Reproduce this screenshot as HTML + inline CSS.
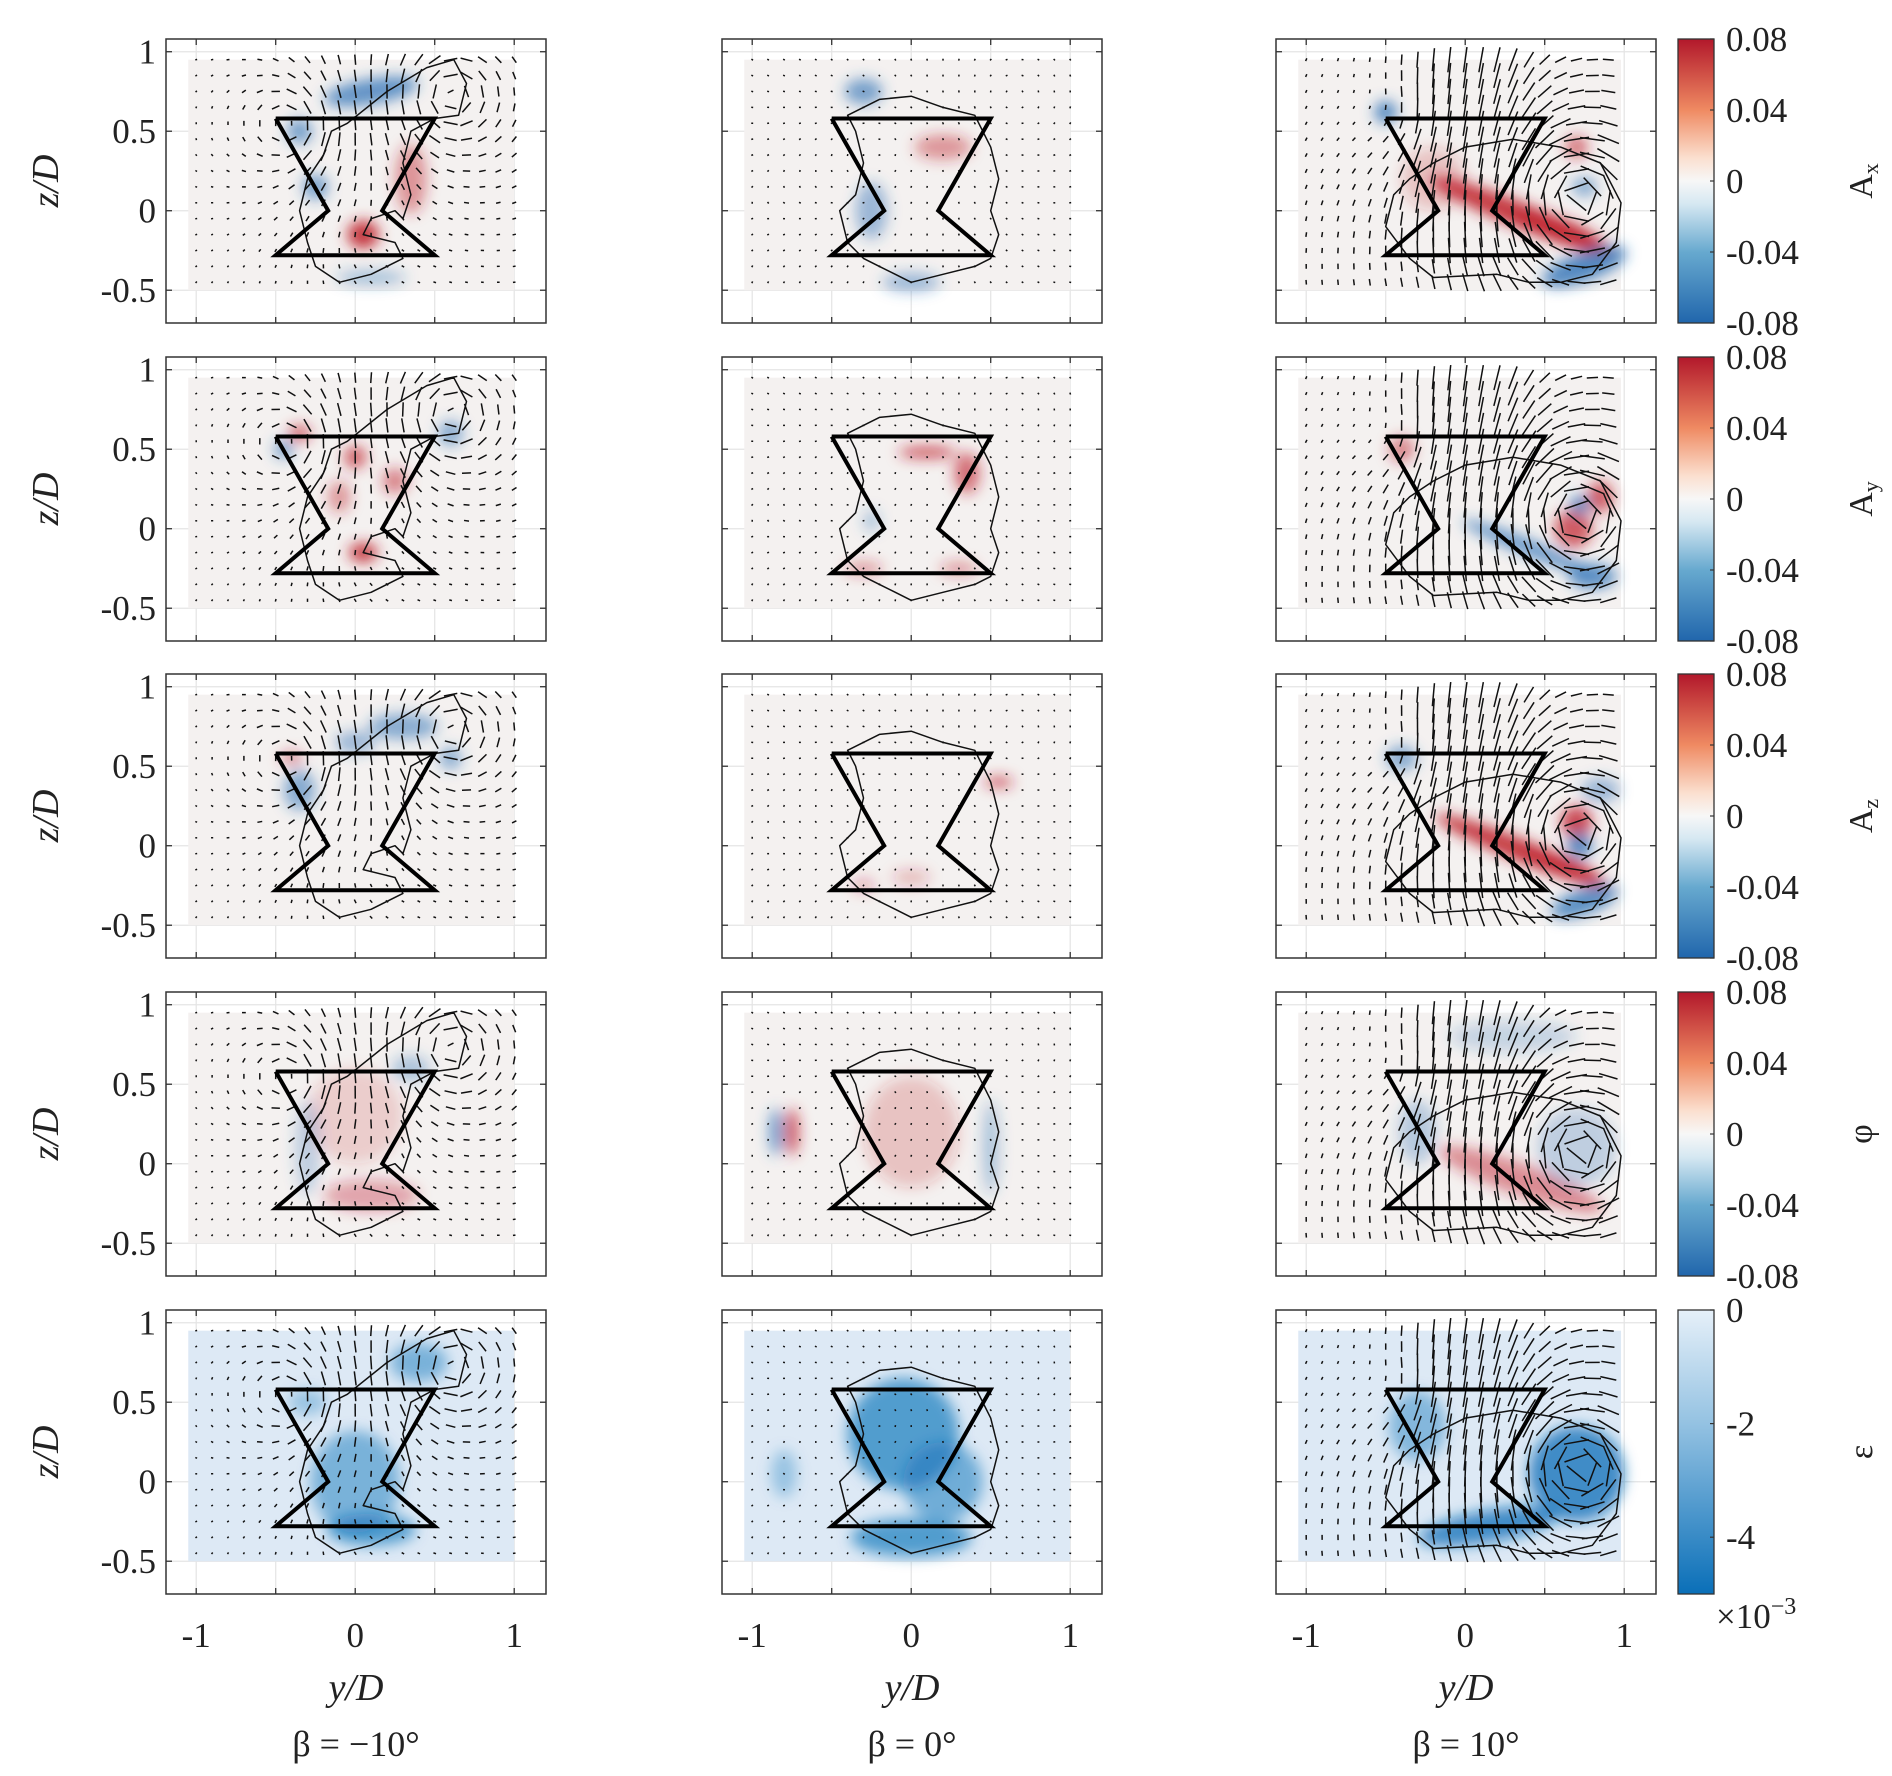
<!DOCTYPE html>
<html><head><meta charset="utf-8">
<style>
html,body{margin:0;padding:0;background:#fff;}
svg{display:block;font-family:"Liberation Serif",serif;}
</style></head>
<body>
<svg id="fig" width="1892" height="1776" viewBox="0 0 1892 1776" xmlns="http://www.w3.org/2000/svg">
<defs>
<filter id="blur" x="-50%" y="-50%" width="200%" height="200%"><feGaussianBlur stdDeviation="7"/></filter>
<linearGradient id="rdbu" x1="0" y1="0" x2="0" y2="1">
<stop offset="0" stop-color="#b2182b"/><stop offset="0.25" stop-color="#ef8a62"/><stop offset="0.42" stop-color="#fbe0d0"/><stop offset="0.5" stop-color="#f7f7f7"/><stop offset="0.58" stop-color="#d6e8f2"/><stop offset="0.75" stop-color="#67a9cf"/><stop offset="1" stop-color="#2166ac"/>
</linearGradient>
<linearGradient id="blues" x1="0" y1="0" x2="0" y2="1">
<stop offset="0" stop-color="#e6f0f9"/><stop offset="0.4" stop-color="#94c2e2"/><stop offset="1" stop-color="#0a6fb8"/>
</linearGradient>
</defs>
</svg>
<script>
// ---- data arrays ----
const colLeft = [166, 722, 1276];
const rowTop = [39, 357, 674, 992, 1310];
const betaLabels = ["β = −10°", "β = 0°", "β = 10°"];
const rowVars = ["A", "A", "A", "φ", "ε"];
const rowSubs = ["x", "y", "z", "", ""];
const yTicks = [1, 0.5, 0, -0.5];
const yTickLabels = ["1", "0.5", "0", "-0.5"];
const xTicks = [-1, 0, 1];
const xTickLabels = ["-1", "0", "1"];
const cbTicksRdBu = [0.08, 0.04, 0, -0.04, -0.08];
const cbTickLabelsRdBu = ["0.08", "0.04", "0", "-0.04", "-0.08"];
const cbTicksEps = [0, -2, -4];
const cbTickLabelsEps = ["0", "-2", "-4"];
// hourglass (bluff body outline) in y/D, z/D
const bodyY = [-0.5, 0.5, 0.17, 0.5, -0.5, -0.17, -0.5];
const bodyZ = [0.58, 0.58, 0, -0.28, -0.28, 0, 0.58];
// vortex centres per column: [y, z, strength, core]
const vortices = [
  [[0.6, 0.72, 0.35, 0.15], [-0.4, 0.55, -0.25, 0.15], [0.05, -0.2, 0.05, 0.2]],
  [[0.0, 0.45, 0.04, 0.3], [0.6, 0.7, -0.06, 0.25]],
  [[0.72, 0.08, 0.8, 0.12], [-0.35, 0.55, -0.15, 0.2]]
];
const downwash = [0.0, 0.0, 0.3];
// contour outlines per column
const contourY = [
  [-0.05,0.2,0.45,0.62,0.7,0.65,0.5,0.35,0.3,0.35,0.3,0.25,0.1,0.05,0.25,0.3,0.1,-0.1,-0.25,-0.3,-0.35,-0.3,-0.2,-0.15,-0.05],
  [-0.4,-0.2,0.0,0.2,0.4,0.5,0.55,0.5,0.55,0.5,0.4,0.2,0.0,-0.1,-0.2,-0.3,-0.4,-0.45,-0.35,-0.3,-0.35,-0.4],
  [-0.2,0.0,0.3,0.6,0.85,0.98,0.95,0.8,0.6,0.4,0.2,-0.2,-0.35,-0.5,-0.45,-0.35,-0.2]
];
const contourZ = [
  [0.55,0.75,0.9,0.95,0.8,0.6,0.58,0.5,0.3,0.1,-0.05,0.0,-0.05,-0.15,-0.2,-0.3,-0.4,-0.45,-0.35,-0.2,0.0,0.2,0.35,0.5,0.55],
  [0.6,0.7,0.72,0.65,0.6,0.4,0.2,0.0,-0.15,-0.3,-0.35,-0.4,-0.45,-0.4,-0.35,-0.3,-0.2,0.0,0.1,0.3,0.5,0.6],
  [0.3,0.4,0.45,0.4,0.3,0.05,-0.2,-0.4,-0.45,-0.45,-0.4,-0.42,-0.3,-0.1,0.1,0.2,0.3]
];
// colour blobs per panel [row][col]: [y, z, ry, rz, rotDeg, sign(+1 red / -1 blue), intensity]
const blobs = [
  [[[0.05,-0.15,0.1,0.09,0,1,1],[0.1,0.75,0.3,0.08,-10,-1,0.8],[-0.35,0.5,0.08,0.08,0,-1,0.7],[0.35,0.2,0.1,0.22,0,1,0.5],[-0.25,0.15,0.08,0.08,0,-1,0.7],[0.1,-0.42,0.22,0.05,0,-1,0.4]],
   [[-0.3,0.75,0.12,0.08,0,-1,0.7],[-0.25,0.0,0.1,0.18,0,-1,0.5],[0.2,0.4,0.18,0.08,0,1,0.5],[0.0,-0.45,0.18,0.06,0,-1,0.5]],
   [[0.35,-0.03,0.62,0.08,22,1,1],[0.6,-0.12,0.3,0.07,22,1,1],[-0.5,0.62,0.07,0.07,0,-1,0.9],[0.75,-0.35,0.28,0.09,-20,-1,0.9],[0.7,0.4,0.07,0.07,0,1,0.7],[0.75,0.15,0.08,0.06,0,-1,0.6],[-0.2,0.2,0.2,0.2,0,1,0.25]]],
  [[[0.05,-0.15,0.09,0.06,0,1,1],[0.0,0.45,0.07,0.07,0,1,0.8],[-0.45,0.5,0.06,0.06,0,-1,0.7],[-0.35,0.6,0.07,0.05,0,1,0.8],[0.6,0.6,0.08,0.08,0,-1,0.6],[-0.1,0.2,0.07,0.1,0,1,0.5],[0.25,0.3,0.08,0.08,0,1,0.6]],
   [[0.1,0.48,0.18,0.035,0,1,0.9],[0.35,0.35,0.08,0.13,0,1,0.7],[-0.3,-0.25,0.12,0.04,0,1,0.5],[0.3,-0.25,0.12,0.04,0,1,0.5],[-0.25,0.05,0.05,0.07,0,-1,0.4]],
   [[0.68,0.0,0.12,0.12,0,1,0.8],[0.85,0.2,0.08,0.1,0,1,0.8],[0.72,0.15,0.06,0.06,0,-1,0.9],[0.4,-0.12,0.45,0.05,22,-1,0.8],[-0.4,0.5,0.08,0.08,0,1,0.6],[0.8,-0.3,0.15,0.08,0,-1,0.8]]],
  [[[-0.35,0.35,0.1,0.13,0,-1,0.6],[0.3,0.75,0.22,0.08,0,-1,0.6],[-0.4,0.55,0.07,0.04,0,1,0.6],[0.6,0.55,0.07,0.07,0,-1,0.6],[0.0,0.65,0.13,0.07,0,-1,0.5]],
   [[0.55,0.4,0.09,0.03,0,1,0.9],[0.0,-0.2,0.12,0.05,0,1,0.3],[-0.3,-0.25,0.07,0.04,0,1,0.4]],
   [[0.35,-0.03,0.58,0.07,22,1,1],[0.6,-0.12,0.28,0.06,22,1,1],[0.7,0.15,0.1,0.1,0,1,0.9],[0.72,0.0,0.08,0.08,0,-1,0.9],[0.75,-0.35,0.22,0.08,-20,-1,0.85],[-0.4,0.55,0.1,0.08,0,-1,0.6],[0.85,0.35,0.12,0.08,0,-1,0.5]]],
  [[[0.1,-0.2,0.3,0.1,0,1,0.4],[0.0,0.3,0.3,0.3,0,1,0.2],[-0.3,0.1,0.08,0.3,0,-1,0.3],[0.35,0.6,0.12,0.08,0,-1,0.4]],
   [[-0.75,0.2,0.04,0.15,0,1,0.9],[-0.85,0.2,0.04,0.15,0,-1,0.8],[0.0,0.2,0.3,0.35,0,1,0.25],[0.5,0.1,0.05,0.3,0,-1,0.4]],
   [[0.35,-0.1,0.55,0.1,20,1,0.55],[0.7,0.1,0.25,0.25,0,-1,0.3],[0.3,0.8,0.4,0.1,0,-1,0.25],[-0.3,0.2,0.12,0.2,0,-1,0.35]]],
  [[[0.0,0.0,0.28,0.32,0,-1,0.5],[0.1,-0.3,0.28,0.1,0,-1,0.7],[0.4,0.75,0.18,0.12,0,-1,0.5],[-0.3,0.5,0.12,0.08,0,-1,0.35]],
   [[-0.05,0.3,0.35,0.35,0,-1,0.7],[0.2,0.0,0.25,0.25,0,-1,0.55],[0.0,-0.35,0.38,0.12,0,-1,0.7],[-0.8,0.05,0.08,0.15,0,-1,0.35]],
   [[0.7,0.05,0.3,0.3,0,-1,0.85],[0.15,-0.28,0.45,0.1,-10,-1,0.85],[-0.3,0.35,0.18,0.22,0,-1,0.45]]]
];
</script>
<script>
const NS = "http://www.w3.org/2000/svg";
const svg = document.getElementById('fig');
const W = 380, H = 284, SC = 159, YMIN = -1.19, ZMAX = 1.08;
function mk(tag, attrs, parent) {
  const e = document.createElementNS(NS, tag);
  for (const k in attrs) e.setAttribute(k, attrs[k]);
  (parent || svg).appendChild(e);
  return e;
}
function px(c, y) { return colLeft[c] + (y - YMIN) * SC; }
function pz(r, z) { return rowTop[r] + (ZMAX - z) * SC; }
function vel(c, y, z) {
  let u = 0, w = -downwash[c] * Math.exp(-Math.pow((y - 0.05) / 0.35, 2)) * (z > -0.35 ? 1 : 0.3);
  for (const v of vortices[c]) {
    const dy = y - v[0], dz = z - v[1];
    const r2 = dy * dy + dz * dz + v[3] * v[3];
    u += -v[2] * dz / r2 * 0.15;
    w += v[2] * dy / r2 * 0.15;
  }
  return [u, w];
}
for (let r = 0; r < 5; r++) {
  for (let c = 0; c < 3; c++) {
    const g = mk('g', {});
    
    
    const cid = 'clip' + r + c;
    const cp = mk('clipPath', { id: cid }, g);
    mk('rect', { x: colLeft[c], y: rowTop[r], width: W, height: H }, cp);
    mk('rect', { x: colLeft[c], y: rowTop[r], width: W, height: H, fill: '#fff' }, g);
    for (const t of [-1, -0.5, 0, 0.5, 1]) {
      mk('line', { x1: px(c, t), x2: px(c, t), y1: rowTop[r], y2: rowTop[r] + H, stroke: '#e4e4e4', 'stroke-width': 1.2 }, g);
    }
    for (const t of yTicks) {
      mk('line', { x1: colLeft[c], x2: colLeft[c] + W, y1: pz(r, t), y2: pz(r, t), stroke: '#e4e4e4', 'stroke-width': 1.2 }, g);
    }
    const fieldRight = c === 2 ? 0.98 : 1.0;
    const bg = mk('rect', { x: px(c, -1.05), y: pz(r, 0.95), width: (fieldRight + 1.05) * SC, height: 1.45 * SC, fill: r === 4 ? '#dde9f5' : '#f4f1f0' }, g);
    
    
    const hg = mk('g', { 'clip-path': 'url(#' + cid + ')', filter: 'url(#blur)' }, g);
    for (const b of blobs[r][c]) {
      let col;
      if (r === 4) col = '#0a6fb8';
      else col = b[5] > 0 ? '#c0212e' : '#2a6fb5';
      const e = mk('ellipse', { cx: px(c, b[0]), cy: pz(r, b[1]), rx: b[2] * SC, ry: b[3] * SC, fill: col, opacity: b[6] * 0.9, transform: 'rotate(' + b[4] + ' ' + px(c, b[0]) + ' ' + pz(r, b[1]) + ')' }, hg);
      
      
    }
    const q = mk('g', { stroke: '#111', 'stroke-width': 1.5, fill: 'none', 'clip-path': 'url(#' + cid + ')' }, g);
    for (let iy = 0; iy <= 20; iy++) {
      for (let iz = 0; iz <= 14; iz++) {
        const y = -1.0 + iy * 0.1, z = -0.45 + iz * 0.1;
        if (y > fieldRight + 0.01) continue;
        let [u, w] = vel(c, y, z);
        let m = Math.hypot(u, w);
        const maxL = c === 2 ? 0.16 : 0.09;
        let L = Math.min(m * 0.55, maxL);
        if (L < 0.012) L = 0.012;
        const ux = m > 0 ? u / m : 0, wz = m > 0 ? w / m : -1;
        const x1 = px(c, y) - ux * L * SC / 2, y1 = pz(r, z) + wz * L * SC / 2;
        const x2 = x1 + ux * L * SC, y2 = y1 - wz * L * SC;
        const ln = mk('line', { x1: x1, y1: y1, x2: x2, y2: y2 }, q);
        
        
      }
    }
    let d = '';
    contourY[c].forEach((y, i) => { d += (i ? 'L' : 'M') + px(c, y).toFixed(1) + ' ' + pz(r, contourZ[c][i]).toFixed(1); });
    const ct = mk('path', { d: d + 'Z', fill: 'none', stroke: '#111', 'stroke-width': 1.5, 'stroke-linejoin': 'round' }, g);
    
    
    let bd = '';
    bodyY.forEach((y, i) => { bd += (i ? 'L' : 'M') + px(c, y).toFixed(1) + ' ' + pz(r, bodyZ[i]).toFixed(1); });
    const body = mk('path', { d: bd, fill: 'none', stroke: '#000', 'stroke-width': 4 }, g);
    
    
    for (const t of [-1, -0.5, 0, 0.5, 1]) {
      mk('line', { x1: px(c, t), x2: px(c, t), y1: rowTop[r] + H, y2: rowTop[r] + H - 6, stroke: '#333', 'stroke-width': 1.3 }, g);
      mk('line', { x1: px(c, t), x2: px(c, t), y1: rowTop[r], y2: rowTop[r] + 6, stroke: '#333', 'stroke-width': 1.3 }, g);
    }
    for (const t of yTicks) {
      mk('line', { x1: colLeft[c], x2: colLeft[c] + 6, y1: pz(r, t), y2: pz(r, t), stroke: '#333', 'stroke-width': 1.3 }, g);
      mk('line', { x1: colLeft[c] + W, x2: colLeft[c] + W - 6, y1: pz(r, t), y2: pz(r, t), stroke: '#333', 'stroke-width': 1.3 }, g);
    }
    const fr = mk('rect', { x: colLeft[c], y: rowTop[r], width: W, height: H, fill: 'none', stroke: '#333', 'stroke-width': 1.5 }, g);
    
    
    if (c === 0) {
      yTicks.forEach((t, i) => {
        const tx = mk('text', { x: colLeft[0] - 10, y: pz(r, t) + 12, 'text-anchor': 'end', 'font-size': 35, fill: '#222' }, g);
        tx.textContent = yTickLabels[i];
        
        
      });
      const yl = mk('text', { x: 0, y: 0, 'text-anchor': 'middle', 'font-size': 38, 'font-style': 'italic', fill: '#222', transform: 'translate(58 ' + (rowTop[r] + H / 2) + ') rotate(-90)' }, g);
      yl.textContent = 'z/D';
      
      
    }
    if (r === 4) {
      xTicks.forEach((t, i) => {
        const tx = mk('text', { x: px(c, t), y: 1647, 'text-anchor': 'middle', 'font-size': 35, fill: '#222' }, g);
        tx.textContent = xTickLabels[i];
        
        
      });
      const xl = mk('text', { x: colLeft[c] + W / 2, y: 1700, 'text-anchor': 'middle', 'font-size': 38, 'font-style': 'italic', fill: '#222' }, g);
      xl.textContent = 'y/D';
      
      
      const bl = mk('text', { x: colLeft[c] + W / 2, y: 1756, 'text-anchor': 'middle', 'font-size': 36, fill: '#222' }, g);
      bl.textContent = betaLabels[c];
      
      
    }
  }
  const cbg = mk('g', {});
  
  
  const cbx = 1678, cbw = 36;
  mk('rect', { x: cbx, y: rowTop[r], width: cbw, height: H, fill: r === 4 ? 'url(#blues)' : 'url(#rdbu)', stroke: '#333', 'stroke-width': 1.3 }, cbg);
  const ticks = r === 4 ? cbTicksEps : cbTicksRdBu;
  const labs = r === 4 ? cbTickLabelsEps : cbTickLabelsRdBu;
  ticks.forEach((t, i) => {
    const yy = r === 4 ? rowTop[r] + (-t / 5) * H : rowTop[r] + (0.08 - t) / 0.16 * H;
    mk('line', { x1: cbx + cbw - 4, x2: cbx + cbw, y1: yy, y2: yy, stroke: '#333', 'stroke-width': 1.2 }, cbg);
    const tx = mk('text', { x: cbx + cbw + 12, y: yy + 12, 'font-size': 35, fill: '#222' }, cbg);
    tx.textContent = labs[i];
    
    
  });
  const lab = mk('text', { x: 0, y: 0, 'text-anchor': 'middle', 'font-size': 34, fill: '#222', transform: 'translate(1872 ' + (rowTop[r] + H / 2) + ') rotate(-90)' }, cbg);
  lab.textContent = rowVars[r];
  if (rowSubs[r]) { const s = mk('tspan', { 'font-size': 22, dy: 6 }, lab); s.textContent = rowSubs[r]; }
  
  
}
const ex = mk('text', { x: 1716, y: 1628, 'font-size': 35, fill: '#222' });
ex.textContent = '×10';
const sup = mk('tspan', { 'font-size': 24, dy: -14 }, ex); sup.textContent = '−3';


</script>
</body></html>
